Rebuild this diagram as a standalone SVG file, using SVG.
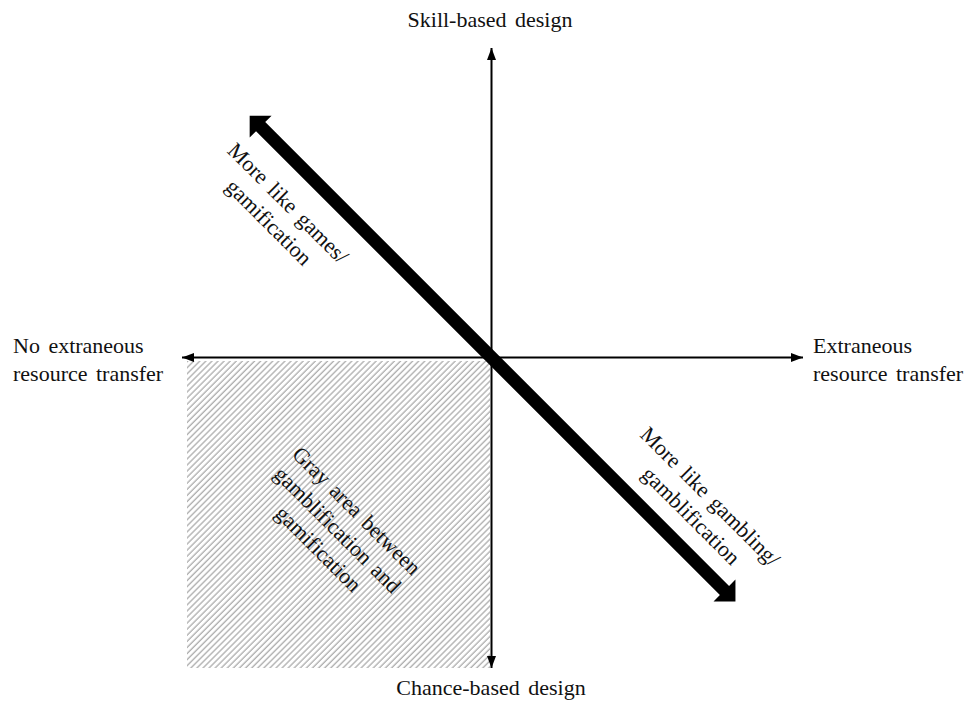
<svg xmlns="http://www.w3.org/2000/svg" width="966" height="702" viewBox="0 0 966 702">
  <style>
    .lbl { font-family: "Liberation Serif", "Times New Roman", serif; font-size: 22px; fill: #111; word-spacing: 3px; }
    .axis { stroke: #000; stroke-width: 2; fill: none; }
  </style>
  <defs>
    <pattern id="hatch" width="4.3" height="10" patternUnits="userSpaceOnUse" patternTransform="rotate(45)">
      <line x1="1" y1="0" x2="1" y2="10" stroke="#a4a4a4" stroke-width="1.2"/>
    </pattern>
    <marker id="head" markerUnits="userSpaceOnUse" markerWidth="12" markerHeight="9" refX="12" refY="4.5" orient="auto-start-reverse">
      <path d="M0,0 L12,4.5 L0,9 z" fill="#000"/>
    </marker>
  </defs>
  <rect width="966" height="702" fill="#fff"/>

  <g id="gray-area">
    <rect x="187" y="361" width="303" height="307" fill="url(#hatch)"/>
    <g transform="translate(491.5,357.5) rotate(45)">
      <text class="lbl" text-anchor="middle" x="13" y="211">Gray area between</text>
      <text class="lbl" text-anchor="middle" x="13" y="238">gamblification and</text>
      <text class="lbl" text-anchor="middle" x="13" y="265">gamification</text>
    </g>
  </g>

  <g id="connectors">
    <line class="axis" x1="491.5" y1="48" x2="491.5" y2="668" marker-start="url(#head)" marker-end="url(#head)"/>
    <line class="axis" x1="182" y1="357.5" x2="803" y2="357.5" marker-start="url(#head)" marker-end="url(#head)"/>
    <g transform="translate(491.5,357.5) rotate(45)">
      <path d="M-342,0 L-326.5,-15.5 L-326.5,-6.5 L329.5,-6.5 L329.5,-15.5 L345,0 L329.5,15.5 L329.5,6.5 L-326.5,6.5 L-326.5,15.5 z" fill="#000"/>
    </g>
  </g>

  <g id="skill">
    <text class="lbl" text-anchor="middle" x="490" y="27">Skill-based design</text>
  </g>
  <g id="chance">
    <text class="lbl" text-anchor="middle" x="491" y="695">Chance-based design</text>
  </g>
  <g id="no-transfer">
    <text class="lbl" x="13" y="353">No extraneous</text>
    <text class="lbl" x="13" y="381">resource transfer</text>
  </g>
  <g id="transfer">
    <text class="lbl" x="813" y="353">Extraneous</text>
    <text class="lbl" x="813" y="381">resource transfer</text>
  </g>
  <g id="games">
    <g transform="translate(491.5,357.5) rotate(45)">
      <text class="lbl" text-anchor="middle" x="-253" y="42">More like games/</text>
      <text class="lbl" text-anchor="middle" x="-253" y="69">gamification</text>
    </g>
  </g>
  <g id="gambling">
    <g transform="translate(491.5,357.5) rotate(45)">
      <text class="lbl" text-anchor="middle" x="253" y="-49">More like gambling/</text>
      <text class="lbl" text-anchor="middle" x="253" y="-22">gamblification</text>
    </g>
  </g>
</svg>
